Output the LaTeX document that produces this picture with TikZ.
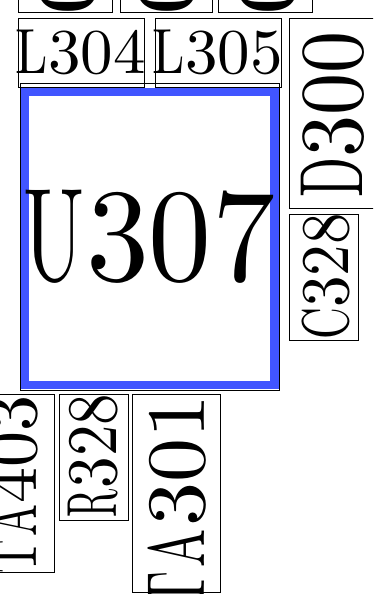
\documentclass[tikz,border=0pt]{standalone}
\usepackage{graphicx}
\definecolor{hlblue}{RGB}{65,85,255}
\tikzset{
  part/.style={draw=black, line width=0.7pt},
  hlframe/.style={draw=hlblue, line width=8.3pt},
  lbl/.style={inner sep=0pt, outer sep=0pt, anchor=center},
  vlbl/.style={lbl, rotate=90},
}
\makeatletter
\def\adv@U{1.09}\def\adv@L{1.08}\def\adv@T{1.08}\def\adv@A{1.03}
\def\adv@R{1.04}\def\adv@C{1.18}\def\adv@D{1.11}
\newlength\mcw \newlength\mch \newlength\mli \newlength\mtmpw
\newcommand\mono[4]{\setlength\mcw{#1pt}\setlength\mch{#2pt}\setlength\mli{#3pt}%
  \fontsize{10}{12}\selectfont\mono@loop#4\relax}
\def\mono@loop#1{\ifx#1\relax\else\mono@char{#1}\expandafter\mono@loop\fi}
\def\mono@strut{\vrule height .683em depth .022em width 0pt\relax}
\def\mono@char#1{\@ifundefined{adv@#1}%
  {\resizebox*{\mcw}{\mch}{\mono@strut#1}}%
  {\setlength\mtmpw{\csname adv@#1\endcsname\mli}%
   \makebox[\mcw]{\resizebox*{\mtmpw}{\mch}{\mono@strut#1}}}}
\makeatother
\begin{document}
\begin{tikzpicture}[x=1pt,y=-1pt]
\useasboundingbox (0,0) rectangle (373,594);
\clip (0,0) rectangle (373,594);
% top row (cut by the top edge)
\draw[part] (18.3,-120) rectangle (112.3,12.3);
\draw[part] (120,-120) rectangle (212.7,12.3);
\draw[part] (218.3,-120) rectangle (312.7,12.3);
\node[vlbl] (t1) at (67,-11.5) {\mono{53.5}{60}{36}{0}};
\node[vlbl] (t2) at (166.7,-11.5) {\mono{53.5}{60}{36}{0}};
\node[vlbl] (t3) at (267.5,-11.5) {\mono{53.5}{60}{36}{0}};
% U307 highlighted
\draw[part] (20.7,83) rectangle (279.3,390);
\draw[hlframe] (24.85,91.95) rectangle (274.35,385.15);
\node[lbl] (u307) at (149,236.7) {\mono{63}{93.3}{56}{U307}};
% L304, L305
\draw[part] (18.3,18.3) rectangle (144,87.3);
\draw[part] (155,18.3) rectangle (281.7,87.3);
\node[lbl] (l304) at (80.5,52.5) {\mono{32.5}{45}{30}{L304}};
\node[lbl] (l305) at (217.5,52.5) {\mono{32.5}{45}{30}{L305}};
% D300
\draw[part] (289.3,18.3) rectangle (400,208.3);
\node[vlbl] (d300) at (333.3,115) {\mono{42}{63.3}{36}{D300}};
% C328
\draw[part] (289.3,214.3) rectangle (358.3,340);
\node[vlbl] (c328) at (326,276) {\mono{31.5}{48}{27}{C328}};
% bottom row
\draw[part] (-36,394.3) rectangle (54,572.7);
\node[vlbl] (ta403) at (12,485) {\mono{36}{52}{31}{TA403}};
\draw[part] (59.3,394.3) rectangle (128.3,520);
\node[vlbl] (r328) at (93,456.5) {\mono{31.5}{50}{27}{R328}};
\draw[part] (132,394.3) rectangle (220.7,592.3);
\node[vlbl] (ta301) at (177.5,504) {\mono{44}{58.4}{37}{TA301}};
\end{tikzpicture}
\end{document}
